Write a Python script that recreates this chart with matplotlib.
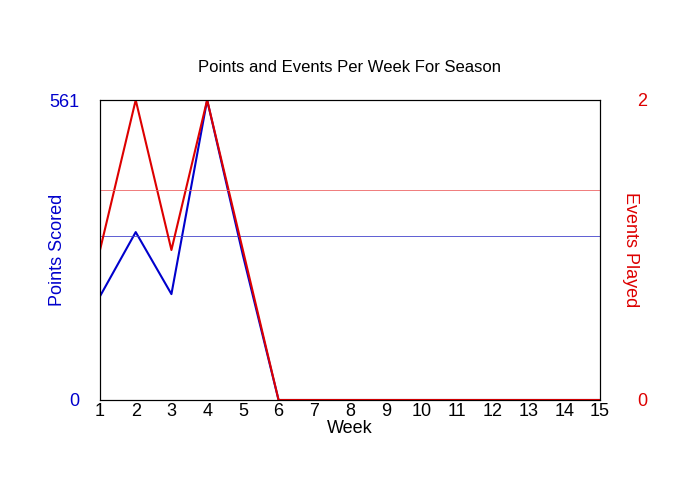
import matplotlib
matplotlib.use("Agg")
import matplotlib.pyplot as plt
import numpy as np

plt.rcParams['font.family'] = ['Liberation Sans', 'DejaVu Sans']

weeks = list(range(1, 16))
points = [194, 314, 198, 561, 271, 0, 0, 0, 0, 0, 0, 0, 0, 0, 0]
events = [1, 2, 1, 2, 1, 0, 0, 0, 0, 0, 0, 0, 0, 0, 0]
played = 5
avg_points = sum(points) / played
avg_events = sum(events) / played

fig = plt.figure(figsize=(7, 5), dpi=100)
ax = fig.add_axes([100/700, 100/500, 500/700, 300/500])
ax.plot(weeks, points, color='#0000cc', lw=1.5)
ax.axhline(avg_points, color='#4444cc', lw=0.6)
ax.set_xlim(1, 15)
ax.set_ylim(0, 561)
ax.set_yticks([0, 561])
ax.set_xticks(weeks)
ax.tick_params(axis='y', colors='#0000cc', labelsize=13, length=0, pad=15)
ax.tick_params(axis='x', labelsize=13, length=0, pad=2)
ax.set_ylabel('Points Scored', color='#0000cc', fontsize=13, labelpad=-12)
ax.set_xlabel('Week', fontsize=13, labelpad=0)
ax.set_title('Points and Events Per Week For Season', fontsize=12, pad=20)

ax2 = ax.twinx()
ax2.plot(weeks, events, color='#dd0000', lw=1.5)
ax2.axhline(avg_events, color='#ee6666', lw=0.6)
ax2.set_ylim(0, 2)
ax2.set_yticks([0, 2])
ax2.tick_params(axis='y', colors='#dd0000', labelsize=13, length=0, pad=27)
ax2.set_ylabel('Events Played', color='#dd0000', fontsize=13, rotation=270, labelpad=-6)
fig.savefig('out.png')
